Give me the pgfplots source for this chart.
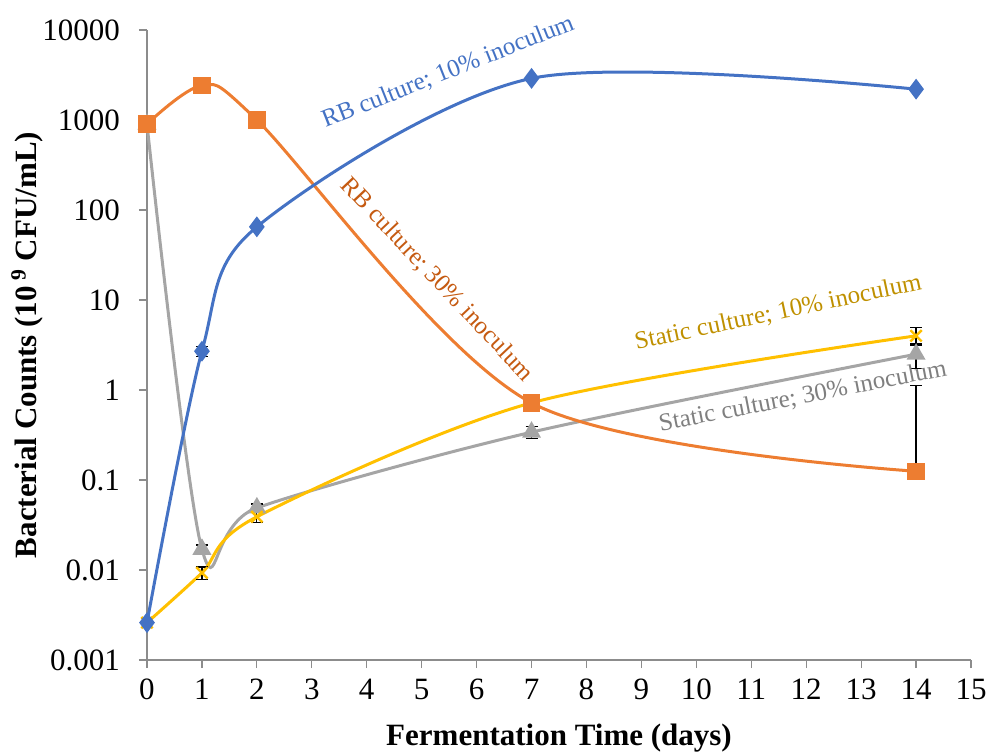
\documentclass[border=0pt]{standalone}
\usepackage{fontspec}
\setmainfont{Liberation Serif}
\usepackage{pgfplots}
\pgfplotsset{compat=1.18}
\definecolor{cBlue}{HTML}{4472C4}
\definecolor{cOrange}{HTML}{ED7D31}
\definecolor{cGray}{HTML}{A5A5A5}
\definecolor{cYellow}{HTML}{FFC000}
\definecolor{tOrange}{HTML}{C55A11}
\definecolor{tYellow}{HTML}{BF9000}
\definecolor{tGray}{HTML}{7F7F7F}
\definecolor{axisgray}{HTML}{8C8C8C}
\begin{document}
\begin{tikzpicture}
\begin{axis}[
  scale only axis, width=412pt, height=315pt,
  xmin=0, xmax=15, ymin=0.001, ymax=10000,
  ymode=log,
  axis lines=left,
  axis line style={axisgray, line width=0.6pt, -},
  tick style={axisgray, line width=0.6pt},
  tick align=outside,
  major tick length=4pt,
  xtick={0,1,...,15},
  ytick={0.001,0.01,0.1,1,10,100,1000,10000},
  yticklabels={0.001,0.01,0.1,1,10,100,1000,10000},
  minor y tick num=0,
  log basis y=10,
  /pgf/number format/assume math mode=true,
  ticklabel style={font=\fontsize{15.5}{17}\selectfont, black},
  xticklabel style={yshift=-2pt},
  yticklabel style={xshift=-6pt},
  every axis x label/.style={at={(rel axis cs:0.5,0)}, anchor=center, yshift=-39pt},
  every axis y label/.style={at={(rel axis cs:0,0.5)}, anchor=center, rotate=90, yshift=60pt},
  label style={font=\fontsize{15.5}{18}\selectfont\bfseries},
  xlabel={Fermentation Time (days)},
  ylabel={Bacterial Counts (10\textsuperscript{ 9} CFU/mL)},
  clip=false,
]
% Static culture 30%
\addplot[cGray, line width=1.5pt, smooth, tension=0.5, mark=triangle*, mark size=4pt, mark options={solid, fill=cGray}]
  coordinates {(0,900) (1,0.017) (2,0.049) (7,0.34) (14,2.5)};
% Static culture 10%
\addplot[cYellow, line width=1.5pt, smooth, tension=0.5, mark=x, mark size=4pt, mark options={solid, line width=1.2pt}]
  coordinates {(0,0.0026) (1,0.0093) (2,0.039) (7,0.72) (14,4.0)};
% RB culture 30%
\addplot[cOrange, line width=1.5pt, smooth, tension=0.5, mark=square*, mark size=3.6pt, mark options={solid, fill=cOrange}]
  coordinates {(0,900) (1,2400) (2,1000) (7,0.72) (14,0.125)};
% RB culture 10%
\addplot[cBlue, line width=1.5pt, smooth, tension=0.5, mark=diamond*, mark size=4pt, mark options={solid, fill=cBlue}]
  coordinates {(0,0.0026) (1,2.7) (2,65) (7,2900) (14,2200)};
% error bars
\addplot[forget plot, draw=none, mark=none, error bars/.cd, y dir=both, y explicit,
  error bar style={draw=black, line width=0.6pt},
  error mark options={draw=black, rotate=90, mark size=3pt, line width=0.6pt}]
  coordinates {(0,0.0026) +- (0,0.0003) (1,2.7) +- (0,0.35)};
\addplot[forget plot, draw=none, mark=none, error bars/.cd, y dir=both, y explicit,
  error bar style={draw=black, line width=0.6pt},
  error mark options={draw=black, rotate=90, mark size=3pt, line width=0.6pt}]
  coordinates {(1,0.0093) +- (0,0.0015) (2,0.039) +- (0,0.005) (7,0.72) +- (0,0.12) (14,4.0) +- (0,0.9)};
\addplot[forget plot, draw=none, mark=none, error bars/.cd, y dir=both, y explicit,
  error bar style={draw=black, line width=0.6pt},
  error mark options={draw=black, rotate=90, mark size=3pt, line width=0.6pt}]
  coordinates {(1,0.017) +- (0,0.002) (2,0.049) +- (0,0.005) (7,0.34) +- (0,0.05) (14,2.5) +- (0,0.75)};
\addplot[forget plot, draw=none, mark=none, error bars/.cd, y dir=plus, y explicit,
  error bar style={draw=black, line width=0.6pt},
  error mark options={draw=black, rotate=90, mark size=3pt, line width=0.6pt}]
  coordinates {(14,0.125) += (0,1.0)};
% annotations
\node[rotate=21.6, text=cBlue, font=\fontsize{12.5}{14}\selectfont] at (axis cs:5.48,3400) {RB culture; 10\% inoculum};
\node[rotate=-46.7, text=tOrange, font=\fontsize{12.5}{14}\selectfont] at (axis cs:5.28,16.7) {RB culture; 30\% inoculum};
\node[rotate=12, text=tYellow, font=\fontsize{12.5}{14}\selectfont] at (axis cs:11.49,7.2) {Static culture; 10\% inoculum};
\node[rotate=11, text=tGray, font=\fontsize{12.5}{14}\selectfont] at (axis cs:11.94,0.84) {Static culture; 30\% inoculum};
\end{axis}
\pgfresetboundingbox
\path (-73.5pt,-46.5pt) rectangle (420.5pt,330pt);
\end{tikzpicture}
\end{document}
